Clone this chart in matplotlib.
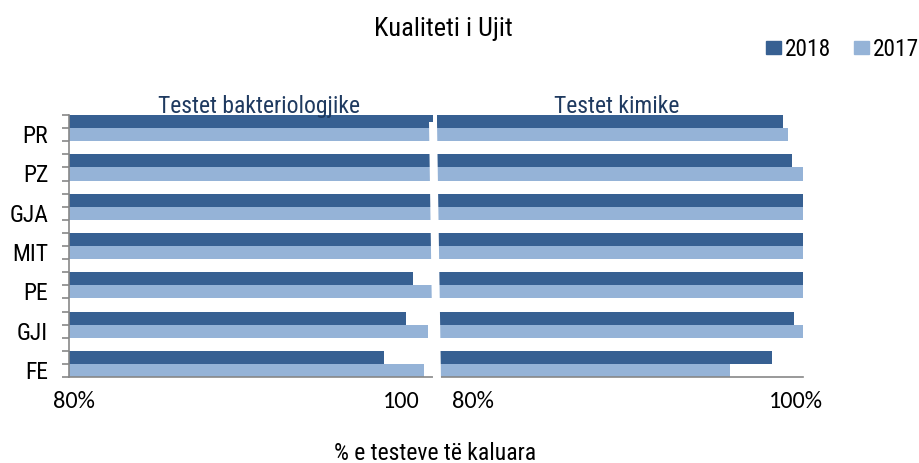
import numpy as np
import matplotlib
matplotlib.use('Agg')
import matplotlib.pyplot as plt
from matplotlib.patches import Patch, Polygon
from matplotlib.transforms import ScaledTranslation

# Data
categories = ['PR', 'PZ', 'GJA', 'MIT', 'PE', 'GJI', 'FE']
years = ['2018', '2017']
bakt_2018 = [100, 100, 100, 100, 98.9, 98.5, 97.3]
bakt_2017 = [100, 100, 100, 100, 100, 99.7, 99.5]
kim_2018 = [98.9, 99.4, 100, 100, 100, 99.5, 98.3]
kim_2017 = [99.2, 100, 100, 100, 100, 100, 96.0]
panel_titles = ['Testet bakteriologjike', 'Testet kimike']
left_ticks = ['80%', '100']
right_ticks = ['80%', '100%']

dark = '#376092'
light = '#95B3D7'
grey = '#878787'
narrow = ['Roboto Condensed', 'DejaVu Sans']
tickfont = ['Carlito', 'DejaVu Sans']

W, H = 920, 464
fig = plt.figure(figsize=(9.2, 4.64), dpi=100)

def px(x0, y0, x1, y1):
    return [x0 / W, 1 - y1 / H, (x1 - x0) / W, (y1 - y0) / H]

ax1 = fig.add_axes(px(69, 116, 433, 378))
ax2 = fig.add_axes(px(437, 116, 803, 378))

y = np.arange(len(categories))
h = 1 / 3.
base = 80

for ax, v18, v17 in [(ax1, bakt_2018, bakt_2017), (ax2, kim_2018, kim_2017)]:
    ax.barh(y - h / 2, np.array(v18) - base, height=h, color=dark, left=base)
    ax.barh(y + h / 2, np.array(v17) - base, height=h, color=light, left=base)
    ax.set_xlim(80, 100)
    ax.set_ylim(len(categories) - 1 + h, -h)
    for s in ['top', 'right', 'left']:
        ax.spines[s].set_visible(False)
    ax.spines['bottom'].set_color(grey)
    ax.spines['bottom'].set_linewidth(1.2)
    ax.set_xticks([80, 100])
    ax.tick_params(axis='x', length=0, pad=9)

# y axis on left panel
ax1.spines['left'].set_visible(True)
ax1.spines['left'].set_color(grey)
ax1.spines['left'].set_linewidth(1.2)
ax1.set_yticks(y)
ax1.set_yticklabels(categories, family=narrow, fontsize=17)
ax1.set_yticks(np.concatenate([y - h, y + h]), minor=True)
ax1.tick_params(axis='y', which='both', length=5, width=1.2, color=grey, pad=10)
ax2.set_yticks([])

for lab in ax1.get_yticklabels():
    lab.set_transform(lab.get_transform() + ScaledTranslation(0, -0.05, fig.dpi_scale_trans))

# x tick labels with offsets
offsets = [(ax1, left_ticks, [0.05, -0.32]), (ax2, right_ticks, [0.355, -0.075])]
for ax, labels, offs in offsets:
    ax.set_xticklabels(labels, family=tickfont, fontsize=17.5)
    for lab, dx in zip(ax.get_xticklabels(), offs):
        lab.set_transform(lab.get_transform() + ScaledTranslation(dx, 0, fig.dpi_scale_trans))

# panel titles
ax1.text(0.521, 1.0126, panel_titles[0], transform=ax1.transAxes, ha='center', va='baseline',
         family=narrow, fontsize=17, color='#1F3A60')
ax2.text(0.492, 1.0126, panel_titles[1], transform=ax2.transAxes, ha='center', va='baseline',
         family=narrow, fontsize=17, color='#1F3A60')

# axis break
brk = Polygon([(429 / W, 1 - 123 / H), (437 / W, 1 - 123 / H), (441 / W, 1 - 381 / H), (433 / W, 1 - 381 / H)],
              closed=True, transform=fig.transFigure, facecolor='white', edgecolor='none', zorder=5)
fig.add_artist(brk)

# title, x label
fig.text(443.8 / W, 1 - 36 / H, 'Kualiteti i Ujit', ha='center', va='baseline', family=narrow, fontsize=19)
fig.text(434.7 / W, 1 - 460 / H, '% e testeve të kaluara', ha='center', va='baseline', family=narrow, fontsize=17)

# legend
handles = [Patch(color=dark), Patch(color=light)]
fig.legend(handles, years, ncol=2, loc='center right', bbox_to_anchor=(919 / W, 1 - 50 / H),
           frameon=False, prop={'family': narrow, 'size': 16.8}, handlelength=0.64, handleheight=0.47,
           handletextpad=0.15, columnspacing=1.0, borderaxespad=0, borderpad=0)

fig.savefig('out.png', dpi=100)
